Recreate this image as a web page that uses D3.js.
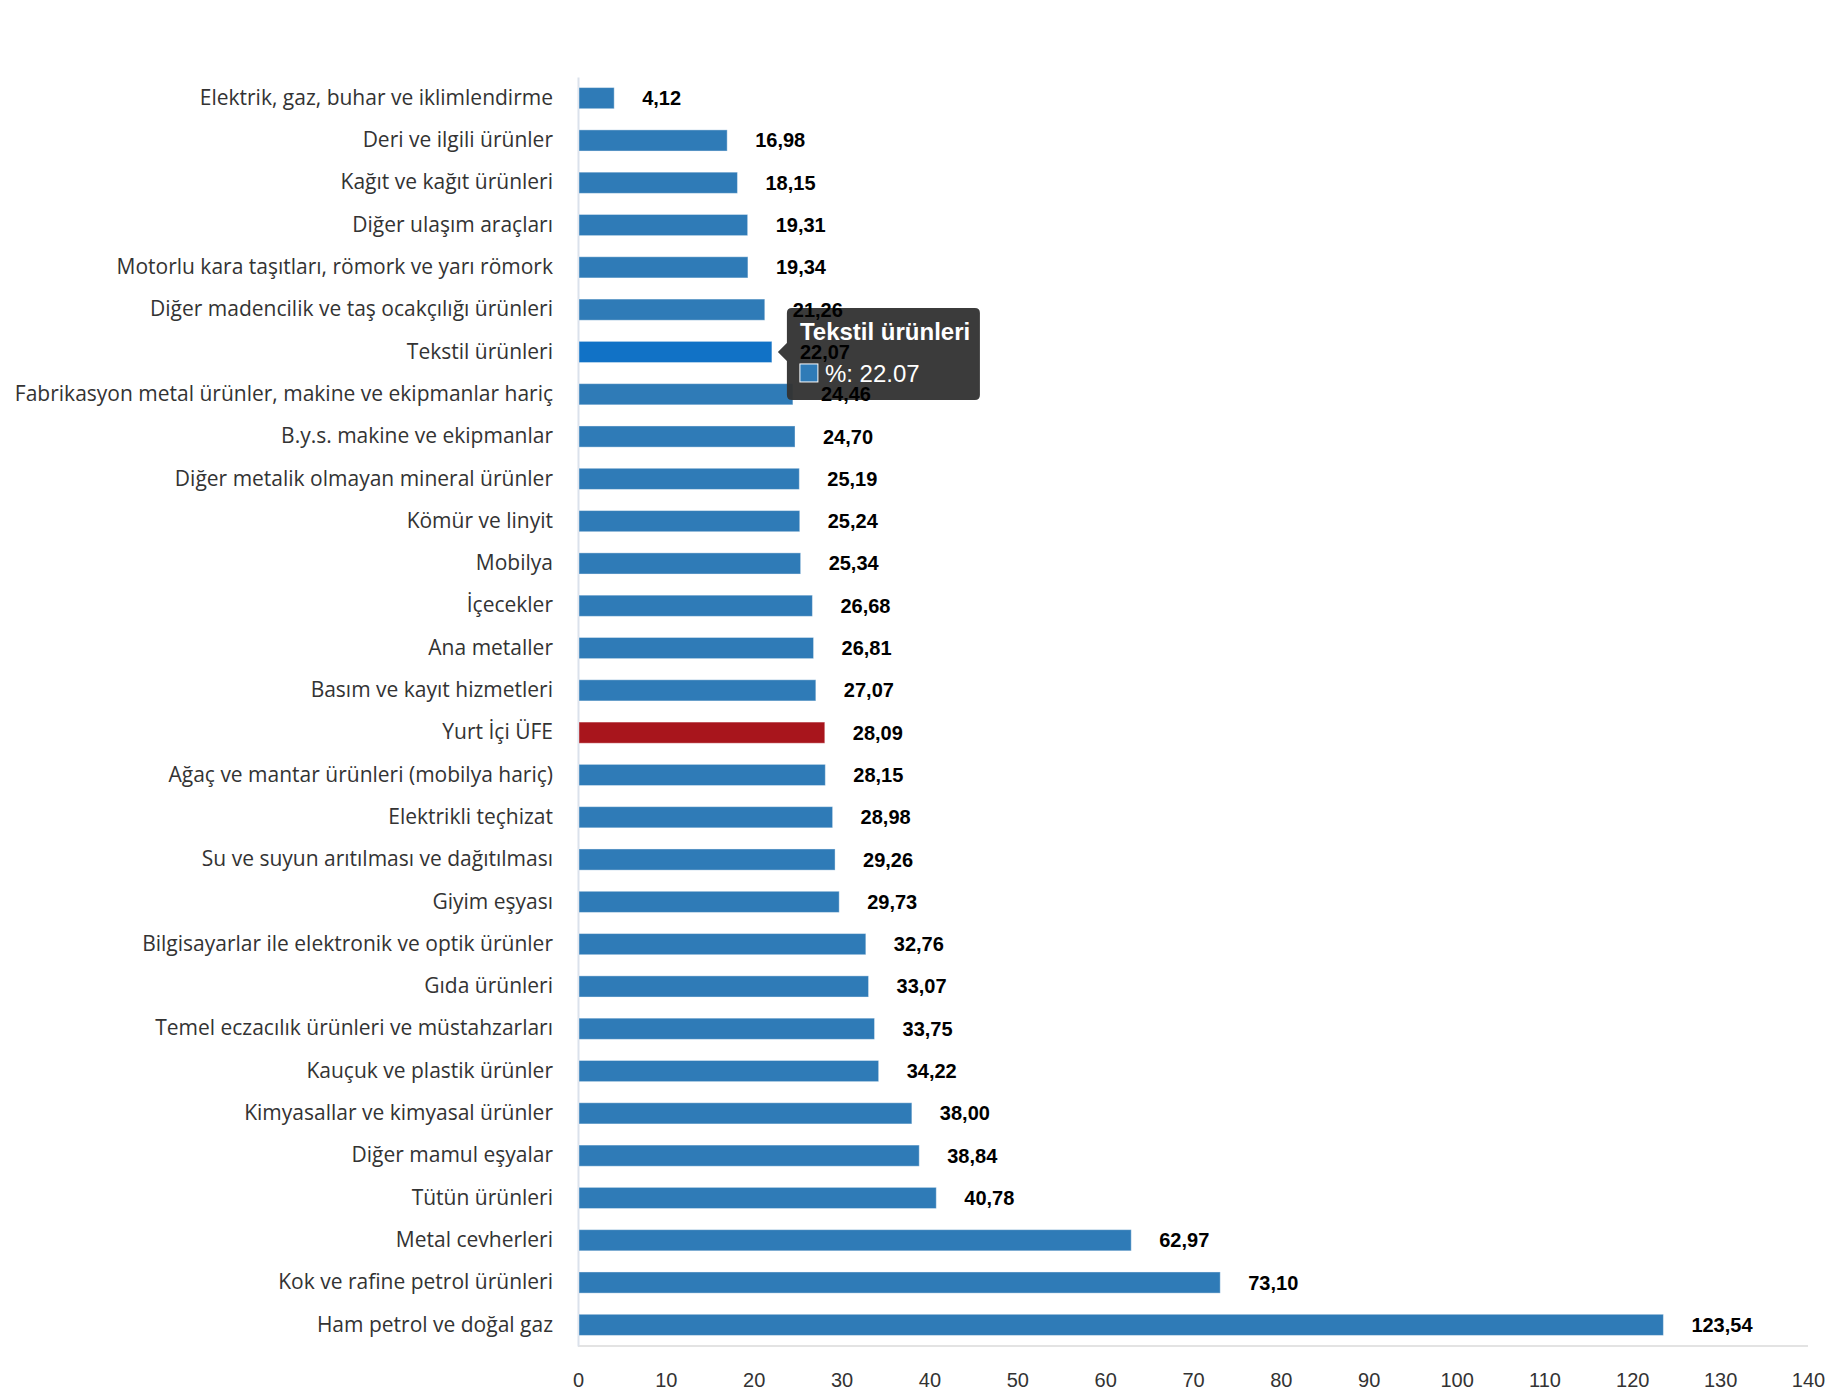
<!DOCTYPE html>
<html>
<head>
<meta charset="utf-8">
<script src="https://cdn.jsdelivr.net/npm/d3@7"></script>
<style>
  body { margin: 0; background: #fff; }
</style>
</head>
<body>
<div id="chart"></div>
<script>
// data, top to bottom
var categories = [
  "Elektrik, gaz, buhar ve iklimlendirme",
  "Deri ve ilgili ürünler",
  "Kağıt ve kağıt ürünleri",
  "Diğer ulaşım araçları",
  "Motorlu kara taşıtları, römork ve yarı römork",
  "Diğer madencilik ve taş ocakçılığı ürünleri",
  "Tekstil ürünleri",
  "Fabrikasyon metal ürünler, makine ve ekipmanlar hariç",
  "B.y.s. makine ve ekipmanlar",
  "Diğer metalik olmayan mineral ürünler",
  "Kömür ve linyit",
  "Mobilya",
  "İçecekler",
  "Ana metaller",
  "Basım ve kayıt hizmetleri",
  "Yurt İçi ÜFE",
  "Ağaç ve mantar ürünleri (mobilya hariç)",
  "Elektrikli teçhizat",
  "Su ve suyun arıtılması ve dağıtılması",
  "Giyim eşyası",
  "Bilgisayarlar ile elektronik ve optik ürünler",
  "Gıda ürünleri",
  "Temel eczacılık ürünleri ve müstahzarları",
  "Kauçuk ve plastik ürünler",
  "Kimyasallar ve kimyasal ürünler",
  "Diğer mamul eşyalar",
  "Tütün ürünleri",
  "Metal cevherleri",
  "Kok ve rafine petrol ürünleri",
  "Ham petrol ve doğal gaz"
];
var values = [4.12, 16.98, 18.15, 19.31, 19.34, 21.26, 22.07, 24.46, 24.70, 25.19,
  25.24, 25.34, 26.68, 26.81, 27.07, 28.09, 28.15, 28.98, 29.26, 29.73,
  32.76, 33.07, 33.75, 34.22, 38.00, 38.84, 40.78, 62.97, 73.10, 123.54];
var xTicks = [0, 10, 20, 30, 40, 50, 60, 70, 80, 90, 100, 110, 120, 130, 140];
var highlight = "Yurt İçi ÜFE";
var hovered = "Tekstil ürünleri";

var svgWidth = 1830;
var svgHeight = 1400;
var margin = { top: 77, right: 22, bottom: 54, left: 578 };
var chartWidth = svgWidth - margin.left - margin.right;
var chartHeight = svgHeight - margin.top - margin.bottom;

var svg = d3.select("#chart")
  .append("svg")
  .attr("width", svgWidth)
  .attr("height", svgHeight);

var chartGroup = svg.append("g")
  .attr("transform", `translate(${margin.left}, ${margin.top})`);

var xScale = d3.scaleLinear()
  .domain([0, 140])
  .range([0, chartWidth]);

var yScale = d3.scaleBand()
  .domain(categories)
  .range([0, chartHeight])
  .paddingInner(0.5)
  .paddingOuter(0.25);

// bottom line + tick labels
chartGroup.append("line")
  .attr("x1", 0).attr("x2", chartWidth)
  .attr("y1", chartHeight).attr("y2", chartHeight)
  .attr("stroke", "#e3e3e3")
  .attr("stroke-width", 2);

var xAxis = d3.axisBottom(xScale).tickValues(xTicks).tickSize(0).tickPadding(27);
var xg = chartGroup.append("g")
  .attr("transform", `translate(0, ${chartHeight})`)
  .call(xAxis);
xg.select(".domain").remove();
xg.selectAll("text")
  .attr("font-family", "Liberation Sans, Arial, sans-serif")
  .attr("font-size", "20px")
  .attr("fill", "#333");

// left axis with category labels
var yAxis = d3.axisLeft(yScale).tickSize(0).tickPadding(25);
var yg = chartGroup.append("g").call(yAxis);
yg.select(".domain")
  .attr("stroke", "#dbe2ec")
  .attr("stroke-width", 2);
yg.selectAll("text")
  .attr("font-family", "Open Sans, Noto Sans, sans-serif")
  .attr("font-size", "21px")
  .attr("fill", "#333");

// bars
chartGroup.selectAll(".bar")
  .data(categories)
  .enter()
  .append("rect")
  .attr("class", "bar")
  .attr("x", 1)
  .attr("y", d => yScale(d))
  .attr("width", (d, i) => xScale(values[i]) - 1)
  .attr("height", yScale.bandwidth())
  .attr("fill", d => d == highlight ? "#a8151c" : (d == hovered ? "#1172c6" : "#2f7bb7"))
  .attr("stroke", "rgba(255,255,255,0.4)")
  .attr("stroke-width", 1);

// tooltip for the hovered bar
var hi = categories.indexOf(hovered);
var tipX = xScale(values[hi]) + 6;
var tipY = yScale(hovered) + yScale.bandwidth() / 2;
var tip = chartGroup.append("g")
  .attr("transform", `translate(${tipX}, ${tipY})`);
tip.append("path")
  .attr("d", "M0,0 L9,-9 L9,-39 Q9,-44 14,-44 L197,-44 Q202,-44 202,-39 L202,43 Q202,48 197,48 L14,48 Q9,48 9,43 L9,9 Z")
  .attr("fill", "#333")
  .attr("fill-opacity", 0.96);
tip.append("text")
  .attr("x", 22).attr("y", -12)
  .attr("font-family", "Liberation Sans, Arial, sans-serif")
  .attr("font-size", "24px")
  .attr("font-weight", "bold")
  .attr("fill", "#fff")
  .text(hovered);
tip.append("rect")
  .attr("x", 22).attr("y", 12)
  .attr("width", 18).attr("height", 18)
  .attr("fill", "#2f7bb7")
  .attr("stroke", "#fff")
  .attr("stroke-width", 1);
tip.append("text")
  .attr("x", 47).attr("y", 30)
  .attr("font-family", "Liberation Sans, Arial, sans-serif")
  .attr("font-size", "24px")
  .attr("fill", "#fff")
  .text("%: " + values[hi].toFixed(2));

// value labels (drawn on top, like the original)
chartGroup.selectAll(".val")
  .data(categories)
  .enter()
  .append("text")
  .attr("class", "val")
  .attr("x", (d, i) => xScale(values[i]) + 28)
  .attr("y", d => yScale(d) + yScale.bandwidth() / 2)
  .attr("dy", "0.35em")
  .attr("font-family", "Liberation Sans, Arial, sans-serif")
  .attr("font-size", "20px")
  .attr("font-weight", "bold")
  .attr("fill", "#000")
  .text((d, i) => values[i].toFixed(2).replace(".", ","));
</script>
</body>
</html>
